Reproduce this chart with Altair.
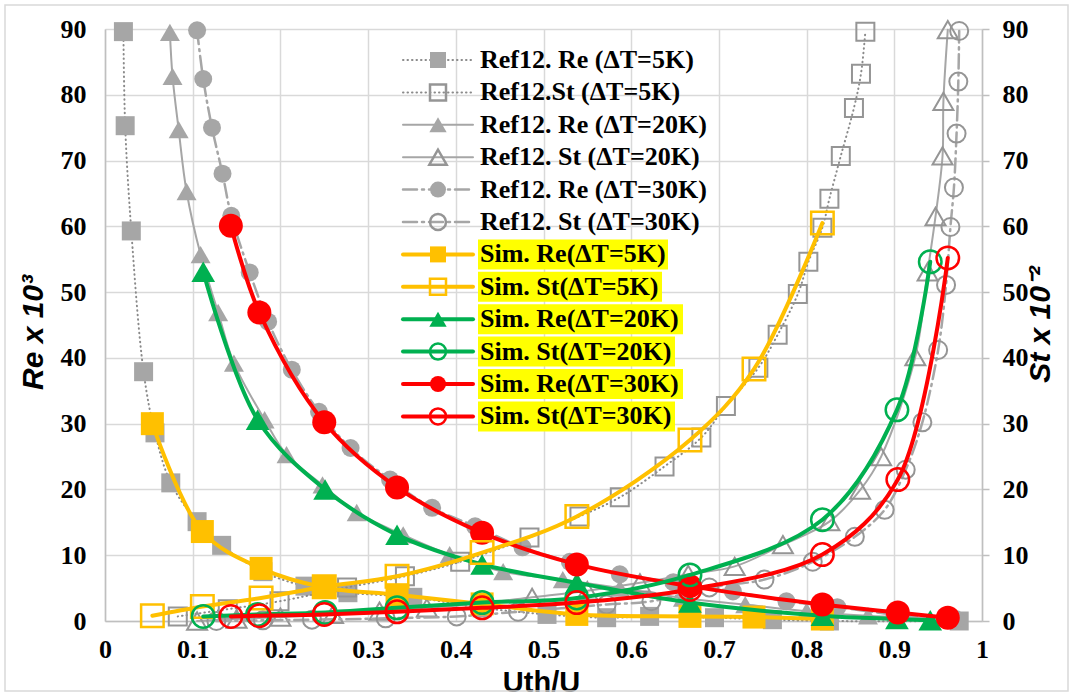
import altair as alt
import pandas as pd

# ---------------------------------------------------------------- data
# Reference (Ref12) curves, Uth/U against Re x 10^3 and St x 10^-2
ref_re5_x = [0.021, 0.023, 0.030, 0.044, 0.057, 0.075, 0.105, 0.133, 0.180, 0.228, 0.277,
             0.351, 0.430, 0.504, 0.572, 0.621, 0.695, 0.761, 0.826, 0.974]
ref_re5_y = [89.6, 75.3, 59.3, 37.9, 28.6, 21.0, 15.1, 11.5, 7.5, 5.3, 4.3,
             3.6, 2.0, 1.0, 0.5, 0.7, 0.5, 0.2, 0.0, 0.0]

ref_st5_x = [0.083, 0.140, 0.199, 0.276, 0.342, 0.405, 0.484, 0.541, 0.587, 0.638, 0.680,
             0.708, 0.745, 0.767, 0.790, 0.802, 0.818, 0.826, 0.839, 0.854, 0.862, 0.867]
ref_st5_y = [0.7, 1.8, 3.0, 5.1, 6.8, 9.0, 12.7, 15.9, 18.8, 23.5, 27.9,
             32.7, 38.5, 43.5, 49.7, 54.6, 59.8, 64.2, 70.7, 78.0, 83.2, 89.6]

ref_re20_x = [0.074, 0.077, 0.084, 0.093, 0.109, 0.129, 0.147, 0.182, 0.207, 0.248, 0.287,
              0.340, 0.393, 0.454, 0.522, 0.587, 0.659, 0.730, 0.800, 0.870, 0.970]
ref_re20_y = [89.5, 82.8, 74.7, 65.3, 55.7, 46.9, 39.2, 30.6, 25.3, 20.7, 16.5,
              13.1, 10.1, 7.5, 6.3, 5.0, 3.5, 2.5, 1.5, 0.8, 0.3]

ref_st20_x = [0.105, 0.150, 0.200, 0.260, 0.313, 0.367, 0.430, 0.487, 0.550, 0.610, 0.665,
              0.718, 0.773, 0.826, 0.861, 0.885, 0.924, 0.938, 0.947, 0.955, 0.956, 0.961]
ref_st20_y = [0.0, 0.3, 0.6, 1.0, 1.5, 2.0, 2.7, 3.6, 4.6, 5.8, 7.1,
              8.3, 11.6, 15.1, 19.9, 25.0, 40.2, 53.1, 61.5, 70.7, 79.0, 89.9]

ref_re30_x = [0.105, 0.112, 0.122, 0.134, 0.144, 0.165, 0.186, 0.213, 0.244, 0.280, 0.325,
              0.373, 0.422, 0.476, 0.530, 0.587, 0.648, 0.716, 0.777, 0.835, 0.900, 0.970]
ref_re30_y = [89.8, 82.4, 75.0, 68.0, 61.6, 53.0, 45.5, 38.2, 31.8, 26.3, 21.5,
              17.2, 14.4, 11.2, 9.0, 7.1, 5.9, 4.5, 3.0, 2.1, 1.0, 0.3]

ref_st30_x = [0.127, 0.180, 0.236, 0.320, 0.401, 0.471, 0.572, 0.623, 0.689, 0.752, 0.807,
              0.855, 0.889, 0.913, 0.932, 0.950, 0.959, 0.964, 0.968, 0.971, 0.973, 0.974]
ref_st30_y = [0.0, 0.1, 0.2, 0.4, 0.7, 1.4, 2.5, 3.0, 5.1, 6.3, 9.0,
              12.8, 16.9, 23.0, 30.2, 41.2, 51.1, 59.9, 65.9, 74.1, 82.0, 89.7]

# Simulation results
sim5_x = [0.054, 0.111, 0.178, 0.250, 0.333, 0.430, 0.538, 0.667, 0.740, 0.818]
sim_re5_y = [30.0, 13.6, 8.0, 5.1, 4.0, 2.6, 1.0, 0.7, 0.6, 0.3]
sim_st5_y = [0.8, 2.2, 3.5, 5.2, 6.8, 10.4, 15.9, 27.5, 38.3, 60.5]

sim20_x = [0.112, 0.174, 0.251, 0.333, 0.430, 0.538, 0.667, 0.818, 0.903, 0.941]
sim_re20_y = [53.1, 30.6, 20.0, 13.1, 8.6, 5.8, 2.8, 0.8, 0.3, 0.1]
sim_st20_y = [0.7, 1.0, 1.3, 2.0, 2.8, 3.5, 7.0, 15.4, 32.1, 54.6]

sim30_x = [0.1435, 0.176, 0.250, 0.333, 0.430, 0.538, 0.667, 0.818, 0.904, 0.961]
sim_re30_y = [60.1, 46.9, 30.2, 20.3, 13.4, 8.6, 5.3, 2.5, 1.3, 0.5]
sim_st30_y = [0.7, 0.8, 1.0, 1.4, 2.0, 2.8, 4.8, 10.1, 21.5, 55.2]

x_ticks = [round(0.1 * i, 1) for i in range(11)]
y_ticks = list(range(0, 91, 10))

# ---------------------------------------------------------------- styles
W, H = 877, 592
GRAY_FILL = "#a6a6a6"
GRAY_EDGE = "#959595"
GRAY_LINE = "#a6a6a6"
DOT_LINE = "#8a8a8a"
ORANGE, GREEN, RED = "#ffc000", "#00b050", "#ff0000"
DOTTED = [0.5, 4]
DASHDOT = [14, 5, 2, 5]

series = [
    dict(label="Ref12. Re (ΔT=5K)", x=ref_re5_x, y=ref_re5_y, group="ref_re",
         line=DOT_LINE, lw=2, dash=DOTTED, shape="square", filled=True, mc=GRAY_FILL, size=361, msize=256),
    dict(label="Ref12.St (ΔT=5K)", x=ref_st5_x, y=ref_st5_y, group="ref_st",
         line=DOT_LINE, lw=2, dash=DOTTED, shape="square", filled=False, mc=GRAY_EDGE, size=324, msize=256),
    dict(label="Ref12. Re (ΔT=20K)", x=ref_re20_x, y=ref_re20_y, group="ref_re",
         line=GRAY_LINE, lw=2, dash=None, shape="triangle-up", filled=True, mc=GRAY_FILL, size=400, msize=300),
    dict(label="Ref12. St (ΔT=20K)", x=ref_st20_x, y=ref_st20_y, group="ref_st",
         line=GRAY_LINE, lw=2, dash=None, shape="triangle-up", filled=False, mc=GRAY_EDGE, size=400, msize=300),
    dict(label="Ref12. Re (ΔT=30K)", x=ref_re30_x, y=ref_re30_y, group="ref_re",
         line=GRAY_LINE, lw=2.5, dash=DASHDOT, shape="circle", filled=True, mc=GRAY_FILL, size=324, msize=256),
    dict(label="Ref12. St (ΔT=30K)", x=ref_st30_x, y=ref_st30_y, group="ref_st",
         line=GRAY_LINE, lw=2.5, dash=DASHDOT, shape="circle", filled=False, mc=GRAY_EDGE, size=324, msize=256),
    dict(label="Sim. Re(ΔT=5K)", x=sim5_x, y=sim_re5_y, group="sim_re",
         line=ORANGE, lw=4, dash=None, shape="square", filled=True, mc=ORANGE, size=529, msize=256),
    dict(label="Sim. St(ΔT=5K)", x=sim5_x, y=sim_st5_y, group="sim_st",
         line=ORANGE, lw=4, dash=None, shape="square", filled=False, mc=ORANGE, size=506, msize=256),
    dict(label="Sim. Re(ΔT=20K)", x=sim20_x, y=sim_re20_y, group="sim_re",
         line=GREEN, lw=4, dash=None, shape="triangle-up", filled=True, mc=GREEN, size=560, msize=300),
    dict(label="Sim. St(ΔT=20K)", x=sim20_x, y=sim_st20_y, group="sim_st",
         line=GREEN, lw=4, dash=None, shape="circle", filled=False, mc=GREEN, size=506, msize=256),
    dict(label="Sim. Re(ΔT=30K)", x=sim30_x, y=sim_re30_y, group="sim_re",
         line=RED, lw=4, dash=None, shape="circle", filled=True, mc=RED, size=576, msize=256),
    dict(label="Sim. St(ΔT=30K)", x=sim30_x, y=sim_st30_y, group="sim_st",
         line=RED, lw=4, dash=None, shape="circle", filled=False, mc=RED, size=506, msize=256),
]

# ---------------------------------------------------------------- scales / axes
XS = alt.Scale(domain=[0, 1], nice=False, zero=False)
YS = alt.Scale(domain=[0, 90], nice=False)
LABEL_FONT = "Liberation Serif"
TITLE_FONT = "Liberation Sans"

x_axis = alt.Axis(
    values=x_ticks, format="~g", grid=True, gridColor="#d9d9d9", gridWidth=1.5,
    domainColor="#bfbfbf", domainWidth=1.5, ticks=False, labelFlush=False, labelOverlap=False,
    labelFont=LABEL_FONT, labelFontWeight="bold", labelFontSize=26, labelColor="black", labelPadding=15,
    title="Uth/U", titleFont=TITLE_FONT, titleFontWeight="bold", titleFontSize=29, titleColor="black",
    titleX=436, titleY=61, titleAlign="center", titleBaseline="middle",
)
left_axis = alt.Axis(
    values=y_ticks, orient="left", grid=True, gridColor="#d9d9d9", gridWidth=1.5,
    domainColor="#bfbfbf", domainWidth=1.5, ticks=False,
    labelFont=LABEL_FONT, labelFontWeight="bold", labelFontSize=26, labelColor="black", labelPadding=19,
    title="Re x 10³", titleFont=TITLE_FONT, titleFontStyle="italic", titleFontWeight="bold",
    titleFontSize=30, titleColor="black", titleX=-72, titleY=303, titleAngle=270,
    titleAlign="center", titleBaseline="middle",
)
right_axis = alt.Axis(
    values=y_ticks, orient="right", grid=False,
    domainColor="#bfbfbf", domainWidth=1.5, ticks=True, tickColor="#bfbfbf", tickWidth=1.5, tickSize=7,
    labelFont=LABEL_FONT, labelFontWeight="bold", labelFontSize=26, labelColor="black", labelPadding=13,
    title="St x 10⁻²", titleFont=TITLE_FONT, titleFontStyle="italic", titleFontWeight="bold",
    titleFontSize=30, titleColor="black", titleX=58, titleY=295, titleAngle=270,
    titleAlign="center", titleBaseline="middle",
)


def xenc(field):
    return alt.X(f"{field}:Q", scale=XS, axis=x_axis)


def yenc(field, axis):
    return alt.Y(f"{field}:Q", scale=YS, axis=axis)


def series_layers(s, axis):
    df = pd.DataFrame({"u": s["x"], "v": s["y"], "k": list(range(len(s["x"])))})
    line_kw = dict(color=s["line"], strokeWidth=s["lw"], interpolate="catmull-rom", strokeCap="round")
    if s["dash"]:
        line_kw["strokeDash"] = s["dash"]
    line = alt.Chart(df).mark_line(**line_kw).encode(
        x=xenc("u"), y=yenc("v", axis), order="k:Q")
    pt_kw = dict(shape=s["shape"], size=s["size"], filled=s["filled"], opacity=1)
    if s["filled"]:
        pt_kw.update(fill=s["mc"], strokeWidth=0)
    else:
        pt_kw.update(stroke=s["mc"], strokeWidth=2.5 if s["group"].startswith("sim") else 2)
    pts = alt.Chart(df).mark_point(**pt_kw).encode(x=xenc("u"), y=yenc("v", axis))
    return [line, pts]


groups = {"ref_re": left_axis, "ref_st": right_axis, "sim_re": None, "sim_st": None}
group_charts = []
for g, ax in groups.items():
    layers = []
    for s in series:
        if s["group"] == g:
            layers += series_layers(s, ax)
    group_charts.append(alt.layer(*layers))

# ---------------------------------------------------------------- legend (inside the plot)
def px_u(px):
    return (px - 105) / W


def px_v(py):
    return (29 + H - py) * 90 / H


ROW0, STEP = 60, 32.4
HL_RIGHT = {"Sim. Re(ΔT=5K)": 668, "Sim. St(ΔT=5K)": 662, "Sim. Re(ΔT=20K)": 683,
            "Sim. St(ΔT=20K)": 675, "Sim. Re(ΔT=30K)": 683, "Sim. St(ΔT=30K)": 675}

legend_layers = []
text_rows, hl_rows = [], []
for i, s in enumerate(series):
    cy = ROW0 + STEP * i
    row = pd.DataFrame({"a": [px_u(403)], "b": [px_u(473)], "m": [px_u(438)], "ly": [px_v(cy)]})
    rule_kw = dict(color=s["line"], strokeWidth=s["lw"] if s["lw"] < 4 else 4, strokeCap="round")
    if s["dash"]:
        rule_kw["strokeDash"] = s["dash"]
    legend_layers.append(alt.Chart(row).mark_rule(**rule_kw).encode(
        x=xenc("a"), x2="b:Q", y=yenc("ly", None)))
    pt_kw = dict(shape=s["shape"], size=s["msize"], filled=s["filled"], opacity=1)
    if s["filled"]:
        pt_kw.update(fill=s["mc"], strokeWidth=0)
    else:
        pt_kw.update(stroke=s["mc"], strokeWidth=2.5)
    legend_layers.append(alt.Chart(row).mark_point(**pt_kw).encode(
        x=xenc("m"), y=yenc("ly", None)))
    text_rows.append({"tx": px_u(480), "ly": px_v(cy), "label": s["label"]})
    if s["label"] in HL_RIGHT:
        hl_rows.append({"h0": px_u(478), "h1": px_u(HL_RIGHT[s["label"]]),
                        "y0": px_v(cy - 15), "y1": px_v(cy + 15)})

highlight = alt.Chart(pd.DataFrame(hl_rows)).mark_rect(color="#ffff00").encode(
    x=xenc("h0"), x2="h1:Q", y=yenc("y0", None), y2="y1:Q")
labels = alt.Chart(pd.DataFrame(text_rows)).mark_text(
    align="left", baseline="middle", font=LABEL_FONT, fontWeight="bold", fontSize=26, color="black"
).encode(x=xenc("tx"), y=yenc("ly", None), text="label:N")

legend = alt.layer(highlight, *legend_layers, labels)

# light frame around the whole figure
frame = alt.Chart(pd.DataFrame({"f": [0]})).mark_rect(
    filled=False, stroke="#d9d9d9", strokeWidth=1.5
).encode(x=alt.value(-100), x2=alt.value(963), y=alt.value(-24), y2=alt.value(662))

chart = alt.layer(
    group_charts[0], group_charts[1], group_charts[2], group_charts[3], legend, frame
).resolve_scale(y="independent").properties(
    width=W, height=H,
    autosize=alt.AutoSizeParams(type="none"),
    padding={"left": 105, "top": 29, "right": 91, "bottom": 75},
    background="white",
).configure_view(stroke=None)

chart.save("out.html", embed_options={"renderer": "svg", "actions": False})
